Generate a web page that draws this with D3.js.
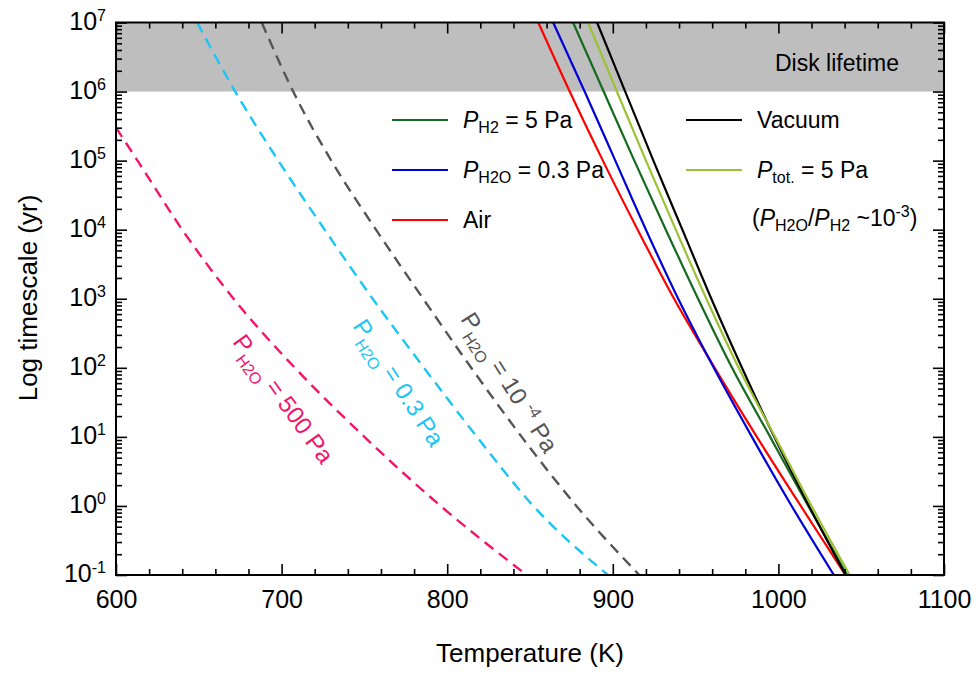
<!DOCTYPE html>
<html>
<head>
<meta charset="utf-8">
<script src="https://cdn.jsdelivr.net/npm/d3@7"></script>
<style>
  body { margin: 0; background: #fff; }
  text { font-family: "Liberation Sans", Arial, Helvetica, sans-serif; fill: #000; }
</style>
</head>
<body>
<div id="chart"></div>
<script>
// timescale levels (yr) that the temperatures below were read at
const timescale = [1e7, 1e6, 1e5, 1e4, 1e3, 1e2, 1e1, 1e0, 1e-1];

// solid curves: temperature (K) at each timescale level
const tVacuum = [890.5, 907.5, 924.5, 942, 959.5, 978, 997.5, 1018.5, 1040.5];
const tPtot   = [885, 902.5, 920, 938, 956.5, 976, 998, 1020, 1043];
const tPH2    = [876, 894.5, 913, 932, 951.5, 972, 995, 1018, 1041.5];
const tPH2O   = [864, 883, 901.5, 920, 939.5, 961, 984, 1008, 1033.5];
const tAir    = [855, 874, 894, 915, 937, 961.5, 987, 1013.5, 1040.5];

// dashed curves
const t500Pa   = [600, 613, 640, 671, 708, 750, 796, 848];
const ts500Pa  = [3.0e5, 1e5, 1e4, 1e3, 1e2, 1e1, 1e0, 1e-1];
const t03Pa    = [649, 672, 698, 726, 755, 786, 818, 852, 897];
const t1em4Pa  = [688, 707, 730, 757, 785.5, 814.5, 845, 878, 916];

const xMajorTicks = [600, 700, 800, 900, 1000, 1100];
const yMajorTicks = [1e-1, 1e0, 1e1, 1e2, 1e3, 1e4, 1e5, 1e6, 1e7];
const yExponents  = ["-1", "0", "1", "2", "3", "4", "5", "6", "7"];

const width = 979, height = 675;
const plot = { left: 116, right: 944, top: 22.5, bottom: 575 };

const x = d3.scaleLinear().domain([600, 1100]).range([plot.left, plot.right]);
const y = d3.scaleLog().domain([1e-1, 1e7]).range([plot.bottom, plot.top]);

const svg = d3.select('#chart').append('svg')
    .attr('width', width)
    .attr('height', height);

svg.append('defs').append('clipPath').attr('id', 'plotclip')
  .append('rect')
    .attr('x', plot.left).attr('y', plot.top)
    .attr('width', plot.right - plot.left)
    .attr('height', plot.bottom - plot.top);

// disk lifetime band
svg.append('rect')
    .attr('x', x(600))
    .attr('y', y(1e7))
    .attr('width', x(1100) - x(600))
    .attr('height', y(1e6) - y(1e7))
    .attr('fill', '#bebebe');

svg.append('text')
    .attr('x', 775).attr('y', 71)
    .style('font-size', '23px')
    .text('Disk lifetime');

// curves
const line = d3.line()
    .x(d => x(d[0]))
    .y(d => y(d[1]))
    .curve(d3.curveMonotoneX);

const series = [
  { temps: t500Pa,  ts: ts500Pa,  color: '#f2156a', dash: '11,7' },
  { temps: t03Pa,   ts: timescale, color: '#1cc6f2', dash: '11,7' },
  { temps: t1em4Pa, ts: timescale, color: '#555555', dash: '11,7' },
  { temps: tAir,    ts: timescale, color: '#ff0000' },
  { temps: tPH2O,   ts: timescale, color: '#0000d8' },
  { temps: tPH2,    ts: timescale, color: '#146a1e' },
  { temps: tVacuum, ts: timescale, color: '#000000' },
  { temps: tPtot,   ts: timescale, color: '#9cc234' }
];

const curves = svg.append('g').attr('clip-path', 'url(#plotclip)');
series.forEach(s => {
  curves.append('path')
      .datum(s.temps.map((t, i) => [t, s.ts[i]]))
      .attr('fill', 'none')
      .attr('stroke', s.color)
      .attr('stroke-width', s.dash ? 2.4 : 2.2)
      .attr('stroke-dasharray', s.dash || null)
      .attr('d', line);
});

// axes (ticks point inward on all four sides)
const xMinor = d3.range(600, 1101, 20).filter(v => v % 100 !== 0);
const yMinor = [];
for (let k = -1; k < 7; k++) {
  for (let m = 2; m <= 9; m++) yMinor.push(m * Math.pow(10, k));
}

function styleAxis(g) {
  g.select('.domain').remove();
  g.selectAll('.tick line').attr('stroke', '#000').attr('stroke-width', 1.6);
}

svg.append('g')
    .attr('transform', `translate(0,${plot.bottom})`)
    .call(d3.axisBottom(x).tickValues(xMajorTicks).tickSize(-11).tickPadding(15).tickFormat(d3.format('d')))
    .call(styleAxis)
    .call(g => g.selectAll('text').style('font-size', '25px').attr('fill', '#000'));
svg.append('g')
    .attr('transform', `translate(0,${plot.bottom})`)
    .call(d3.axisBottom(x).tickValues(xMinor).tickSize(-6).tickFormat(''))
    .call(styleAxis);
svg.append('g')
    .attr('transform', `translate(0,${plot.top})`)
    .call(d3.axisTop(x).tickValues(xMajorTicks).tickSize(-11).tickFormat(''))
    .call(styleAxis);
svg.append('g')
    .attr('transform', `translate(0,${plot.top})`)
    .call(d3.axisTop(x).tickValues(xMinor).tickSize(-6).tickFormat(''))
    .call(styleAxis);

svg.append('g')
    .attr('transform', `translate(${plot.left},0)`)
    .call(d3.axisLeft(y).tickValues(yMajorTicks).tickSize(-11).tickFormat(''))
    .call(styleAxis);
svg.append('g')
    .attr('transform', `translate(${plot.left},0)`)
    .call(d3.axisLeft(y).tickValues(yMinor).tickSize(-6).tickFormat(''))
    .call(styleAxis);
svg.append('g')
    .attr('transform', `translate(${plot.right},0)`)
    .call(d3.axisRight(y).tickValues(yMajorTicks).tickSize(-11).tickFormat(''))
    .call(styleAxis);
svg.append('g')
    .attr('transform', `translate(${plot.right},0)`)
    .call(d3.axisRight(y).tickValues(yMinor).tickSize(-6).tickFormat(''))
    .call(styleAxis);

// y tick labels as 10^n
yMajorTicks.forEach((v, i) => {
  const t = svg.append('text')
      .attr('x', plot.left - 10)
      .attr('y', y(v) + 7)
      .attr('text-anchor', 'end')
      .style('font-size', '25px');
  t.append('tspan').text('10');
  t.append('tspan').attr('dy', -9).style('font-size', '16px').text(yExponents[i]);
});

// frame
svg.append('rect')
    .attr('x', plot.left).attr('y', plot.top)
    .attr('width', plot.right - plot.left)
    .attr('height', plot.bottom - plot.top)
    .attr('fill', 'none')
    .attr('stroke', '#000')
    .attr('stroke-width', 2);

// axis titles
svg.append('text')
    .attr('x', (plot.left + plot.right) / 2).attr('y', 662)
    .attr('text-anchor', 'middle')
    .style('font-size', '26px')
    .text('Temperature (K)');
svg.append('text')
    .attr('transform', 'translate(37,298) rotate(-90)')
    .attr('text-anchor', 'middle')
    .style('font-size', '26px')
    .text('Log timescale (yr)');

// rich text helper: parts with sub / sup / italic
function richText(sel, parts, size, subShift, supShift) {
  let shift = 0;
  parts.forEach(p => {
    const target = p.sub ? subShift : p.sup ? -supShift : 0;
    sel.append('tspan')
        .attr('dy', target - shift)
        .style('font-size', (p.sub || p.sup ? Math.round(size * 0.68) : size) + 'px')
        .style('font-style', p.it ? 'italic' : null)
        .text(p.t);
    shift = target;
  });
}

// legend
const legendRows = [
  { x: 392, y: 120, color: '#146a1e', parts: [{ t: 'P', it: true }, { t: 'H2', sub: true }, { t: ' = 5 Pa' }] },
  { x: 392, y: 170, color: '#0000d8', parts: [{ t: 'P', it: true }, { t: 'H2O', sub: true }, { t: ' = 0.3 Pa' }] },
  { x: 392, y: 220, color: '#ff0000', parts: [{ t: ' Air' }] },
  { x: 686, y: 120, color: '#000000', parts: [{ t: 'Vacuum' }] },
  { x: 686, y: 170, color: '#9cc234', parts: [{ t: 'P', it: true }, { t: 'tot.', sub: true }, { t: ' = 5 Pa' }] }
];

legendRows.forEach(r => {
  svg.append('line')
      .attr('x1', r.x).attr('x2', r.x + 56)
      .attr('y1', r.y).attr('y2', r.y)
      .attr('stroke', r.color)
      .attr('stroke-width', 2.2);
  const t = svg.append('text')
      .attr('x', r.x + 71).attr('y', r.y + 8);
  richText(t, r.parts, 23, 5, 9);
});

const ratio = svg.append('text').attr('x', 752).attr('y', 226);
richText(ratio, [
  { t: '(' }, { t: 'P', it: true }, { t: 'H2O', sub: true }, { t: '/' },
  { t: 'P', it: true }, { t: 'H2', sub: true }, { t: ' ~10' }, { t: '-3', sup: true }, { t: ')' }
], 23, 5, 9);

// rotated labels along dashed curves
const curveLabels = [
  { x: 232, y: 342, angle: 54, color: '#f2156a', parts: [{ t: 'P' }, { t: 'H2O', sub: true }, { t: ' = 500 Pa' }] },
  { x: 352, y: 326, angle: 57, color: '#1cc6f2', parts: [{ t: 'P' }, { t: 'H2O', sub: true }, { t: ' = 0.3 Pa' }] },
  { x: 460, y: 319, angle: 58, color: '#555555', parts: [{ t: 'P' }, { t: 'H2O', sub: true }, { t: ' = 10 ' }, { t: '-4', sup: true }, { t: ' Pa' }] }
];

curveLabels.forEach(l => {
  const t = svg.append('text')
      .attr('transform', `translate(${l.x},${l.y}) rotate(${l.angle})`)
      .style('fill', l.color);
  richText(t, l.parts, 24, 8, 9);
  t.selectAll('tspan').style('fill', l.color);
});
</script>
</body>
</html>
